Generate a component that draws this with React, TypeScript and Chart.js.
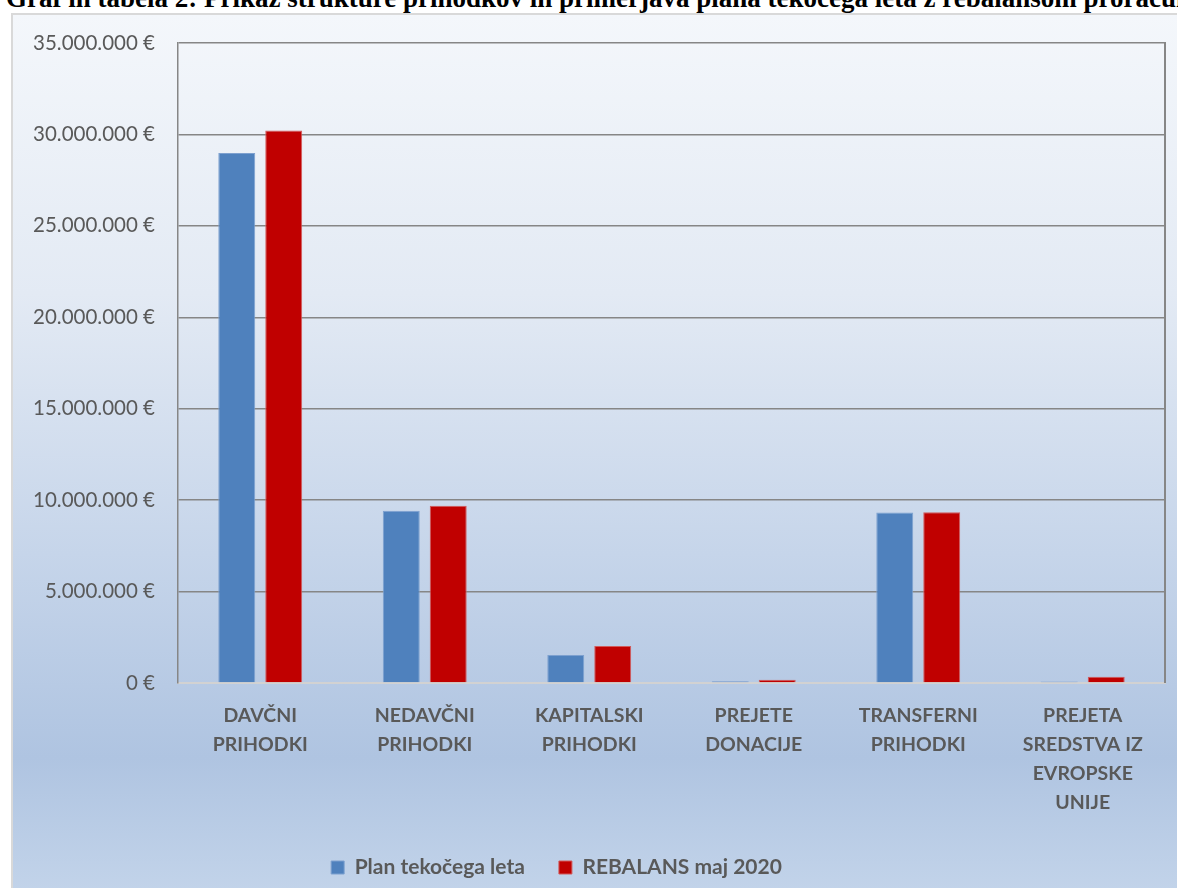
import React, { useEffect, useRef } from 'react';
import { Chart, registerables } from 'chart.js';

Chart.register(...registerables);

const titleText = 'Graf in tabela 2: Prikaz strukture prihodkov in primerjava plana tekočega leta z rebalansom proračuna';
const categories: string[][] = [
  ['DAVČNI', 'PRIHODKI'],
  ['NEDAVČNI', 'PRIHODKI'],
  ['KAPITALSKI', 'PRIHODKI'],
  ['PREJETE', 'DONACIJE'],
  ['TRANSFERNI', 'PRIHODKI'],
  ['PREJETA', 'SREDSTVA IZ', 'EVROPSKE', 'UNIJE'],
];
const seriesNames = ['Plan tekočega leta', 'REBALANS maj 2020'];
const planValues = [28990000, 9420000, 1530000, 90000, 9320000, 80000];
const rebalansValues = [30220000, 9690000, 2020000, 180000, 9340000, 340000];
const yMin = 0;
const yMax = 35000000;
const yStep = 5000000;

const formatEuro = (v: number) =>
  String(Math.round(v)).replace(/\B(?=(\d{3})+(?!\d))/g, '.') + ' €';

const LEGEND_SHIFT = 32;

const rightBorderPlugin = {
  id: 'rightBorder',
  afterDatasetsDraw(chart: any) {
    const { ctx, chartArea } = chart;
    ctx.save();
    ctx.strokeStyle = '#868686';
    ctx.lineWidth = 2;
    ctx.beginPath();
    ctx.moveTo(chartArea.right, chartArea.top - 1);
    ctx.lineTo(chartArea.right, chartArea.bottom);
    ctx.stroke();
    ctx.restore();
  },
};

const legendShiftPlugin = {
  id: 'legendShift',
  afterLayout(chart: any) {
    if (chart.legend) {
      chart.legend.left -= LEGEND_SHIFT;
      chart.legend.right -= LEGEND_SHIFT;
    }
  },
};

export default function App() {
  const canvasRef = useRef<HTMLCanvasElement | null>(null);

  useEffect(() => {
    if (!canvasRef.current) return;
    const chart = new Chart(canvasRef.current, {
      type: 'bar',
      data: {
        labels: categories,
        datasets: [
          {
            label: seriesNames[0],
            data: planValues,
            backgroundColor: '#4f81bd',
            borderColor: '#7da0cf',
            borderWidth: 1,
          },
          {
            label: seriesNames[1],
            data: rebalansValues,
            backgroundColor: '#c00000',
            borderColor: '#d25a5a',
            borderWidth: 1,
          },
        ],
      },
      options: {
        animation: false,
        responsive: false,
        layout: { padding: { left: 0, right: 13, top: 30, bottom: 55 } },
        datasets: {
          bar: { categoryPercentage: 0.571, barPercentage: 0.787 },
        },
        scales: {
          x: {
            grid: { display: false, drawTicks: false },
            border: { display: true, color: '#d2d2d2', width: 2 },
            ticks: {
              color: '#595959',
              font: { family: 'Lato', size: 19.5, weight: 'bold', lineHeight: 1.49 },
              padding: 18,
              maxRotation: 0,
              autoSkip: false,
            },
            afterFit(scale: any) {
              scale.height = 140;
            },
          },
          y: {
            min: yMin,
            max: yMax,
            grid: { color: '#868686', lineWidth: 1.5, drawTicks: false },
            border: { display: true, color: '#868686', width: 1.5 },
            ticks: {
              stepSize: yStep,
              color: '#595959',
              font: { family: 'Lato', size: 20.5, lineHeight: 0.6 },
              padding: 23,
              callback: (v: any) => formatEuro(Number(v)),
            },
            afterFit(scale: any) {
              scale.width = 166;
            },
          },
        },
        plugins: {
          legend: {
            position: 'bottom',
            labels: {
              color: '#595959',
              font: { family: 'Lato', size: 21, weight: 'bold' },
              boxWidth: 13,
              boxHeight: 13,
              padding: 34,
            },
          },
          tooltip: { enabled: false },
        },
      },
      plugins: [rightBorderPlugin, legendShiftPlugin],
    } as any);
    return () => chart.destroy();
  }, []);

  return (
    <div
      style={{
        position: 'absolute',
        left: 0,
        top: 0,
        width: 1178,
        height: 888,
        overflow: 'hidden',
        background: '#ffffff',
      }}
    >
      <div
        style={{
          position: 'absolute',
          left: 6,
          top: -15,
          whiteSpace: 'nowrap',
          fontFamily: '"Liberation Serif", "Times New Roman", serif',
          fontWeight: 'bold',
          fontSize: 27,
          lineHeight: '27px',
          color: '#000',
        }}
      >
        {titleText}
      </div>
      <div
        style={{
          position: 'absolute',
          left: 11,
          top: 13,
          width: 1166,
          height: 930,
          borderLeft: '2px solid #d9d9d9',
          borderTop: '2px solid #d9d9d9',
          boxSizing: 'border-box',
          background:
            'linear-gradient(to bottom, #f4f7fb 0%, #e3eaf4 30%, #c6d5ea 58%, #afc4e1 80%, #c3d4ea 95%, #c8d8ec 100%)',
        }}
      >
        <canvas
          ref={canvasRef}
          width={1166}
          height={930}
          style={{ position: 'absolute', left: -1, top: -2, display: 'block' }}
        />
      </div>
    </div>
  );
}
